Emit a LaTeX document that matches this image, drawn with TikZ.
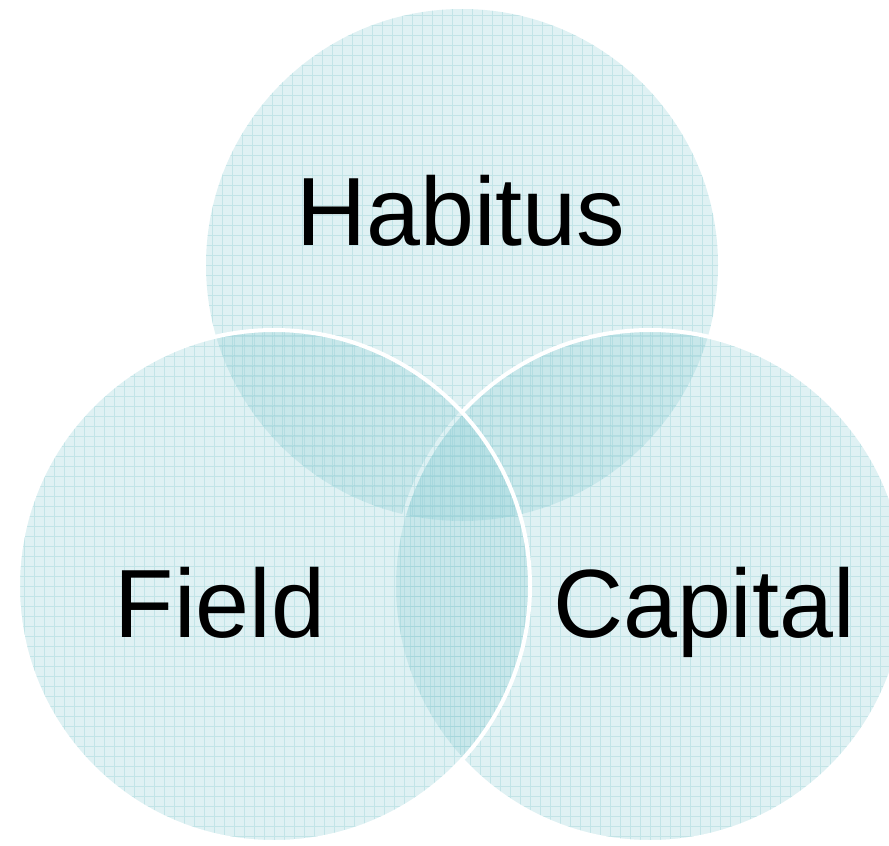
\documentclass[tikz,border=0pt]{standalone}
\usepackage{fontspec}
\setmainfont{Liberation Sans}
\usepackage{tikz}
\usetikzlibrary{positioning}

\definecolor{vennfill}{RGB}{140,205,212}
\definecolor{venngrid}{RGB}{150,208,214}

\tikzset{
	venn/.style={circle, minimum size=512pt, inner sep=0pt, fill=vennfill, fill opacity=0.28, draw=white, draw opacity=1, line width=4pt,
		path picture={\draw[venngrid, draw opacity=0.4, line width=0.7pt] (path picture bounding box.south west) grid[step=10pt] (path picture bounding box.north east);}},
	label/.style={font=\fontsize{97}{97}\selectfont, anchor=base, inner sep=0pt}
}

\begin{document}
\begin{tikzpicture}[x=1pt, y=-1pt]
		\useasboundingbox (0,0) rectangle (889,846);
		\clip (0,0) rectangle (889,846);

		\draw (462,265) node[venn, draw=none] (habitus) {};
		\draw (650,586) node[venn] (capital) {};
		\draw (274,586) node[venn] (field) {};

		\draw (461,245) node[label] (habitustext) {Habitus};
		\draw (220,637) node[label] (fieldtext) {Field};
		\draw (704,637) node[label] (capitaltext) {Capital};
\end{tikzpicture}
\end{document}
